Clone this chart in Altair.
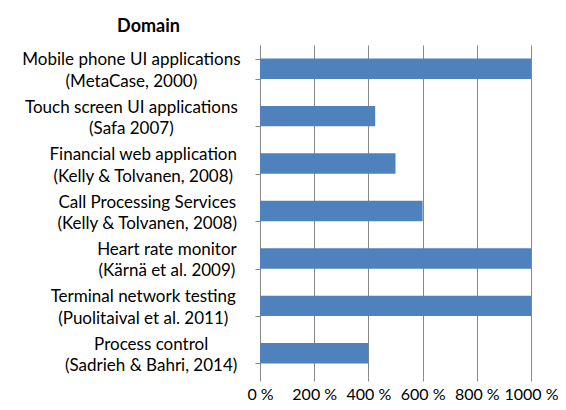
import altair as alt
import pandas as pd

line1 = [
    "Mobile phone UI applications",
    "Touch screen UI applications",
    "Financial web application",
    "Call Processing Services",
    "Heart rate monitor",
    "Terminal network testing",
    "Process control",
]
line2 = [
    "(MetaCase, 2000)",
    "(Safa 2007)",
    "(Kelly & Tolvanen, 2008)",
    "(Kelly & Tolvanen, 2008)",
    "(Kärnä et al. 2009)",
    "(Puolitaival et al. 2011)",
    "(Sadrieh & Bahri, 2014)",
]
values = [1000, 425, 500, 600, 1000, 1000, 400]
x_ticks = [0, 200, 400, 600, 800, 1000]

domains = [a + "|" + b for a, b in zip(line1, line2)]
df = pd.DataFrame({"domain": domains, "value": values})

FONT = "Lato"
GRAY = "#878787"

y_enc = alt.Y(
    "domain:N",
    sort=domains,
    scale=alt.Scale(paddingInner=0.57, paddingOuter=0.285),
    axis=alt.Axis(
        title="Domain",
        titleFont=FONT,
        titleFontSize=18,
        titleFontWeight="bold",
        titleColor="#000000",
        titleAngle=0,
        titleAlign="center",
        titleBaseline="alphabetic",
        titleX=-112,
        titleY=-13.5,
        labels=False,
        domainColor=GRAY,
        tickColor=GRAY,
        tickSize=5,
        tickBand="extent",
        grid=False,
    ),
)

bars = (
    alt.Chart(df)
    .mark_bar(color="#4F81BD")
    .encode(
        x=alt.X(
            "value:Q",
            scale=alt.Scale(domain=[0, 1000], nice=False),
            axis=alt.Axis(
                values=x_ticks,
                labelExpr="datum.value + ' %'",
                title=None,
                domain=False,
                grid=True,
                gridColor=GRAY,
                gridWidth=1,
                tickColor=GRAY,
                tickSize=4,
                labelFont=FONT,
                labelFontSize=16,
                labelColor="#000000",
                labelPadding=5,
                labelFlush=False,
            ),
        ),
        y=y_enc,
    )
)

labels = (
    alt.Chart(df)
    .transform_calculate(
        label_x="-18 - 3.95 * max(length(split(datum.domain, '|')[0]), "
        "length(split(datum.domain, '|')[1]))"
    )
    .mark_text(
        lineBreak="|",
        align="center",
        baseline="middle",
        lineHeight=21.5,
        font=FONT,
        fontSize=17,
        color="#000000",
        dy=-8.5,
    )
    .encode(
        x=alt.X("label_x:Q", scale=None),
        y=alt.Y("domain:N", sort=domains),
        text=alt.Text("domain:N"),
    )
)

chart = (
    alt.layer(bars, labels)
    .properties(
        width=271,
        height=332,
        autosize=alt.AutoSizeParams(type="none"),
        padding={"left": 252, "top": 37, "right": 27, "bottom": 25},
    )
    .configure_view(stroke=None)
)

chart.save("out.html", embed_options={"renderer": "svg", "actions": False})
